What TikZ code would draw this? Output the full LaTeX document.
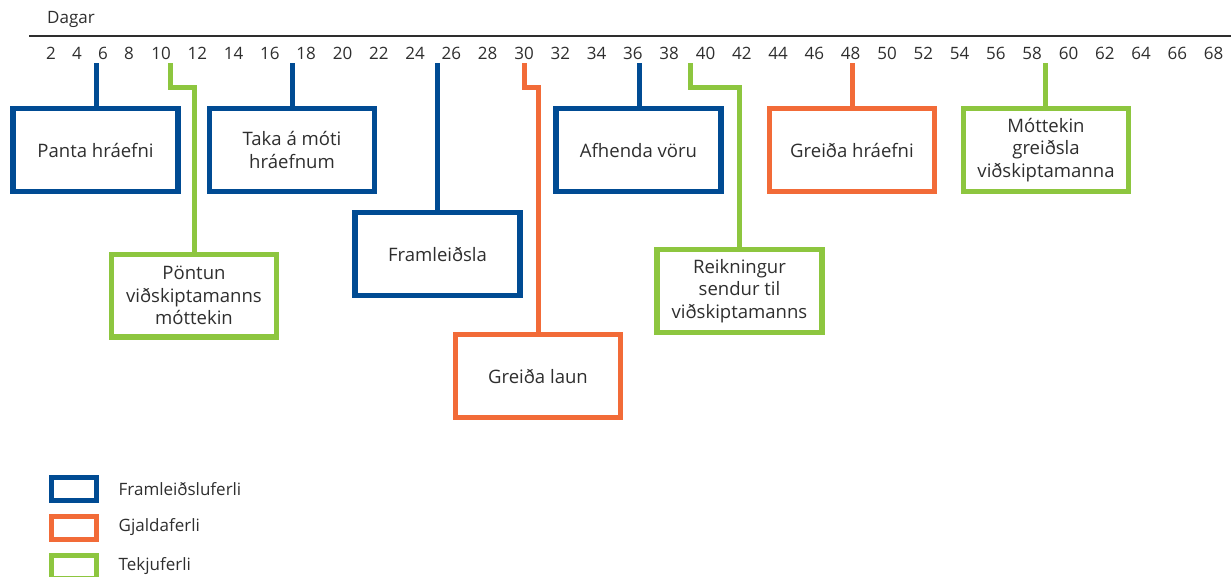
\documentclass[tikz,border=0pt]{standalone}
\usepackage{fontspec}
\setmainfont{Open Sans}
\definecolor{fblue}{HTML}{004B93}
\definecolor{forange}{HTML}{F26B38}
\definecolor{fgreen}{HTML}{8DC63F}
\definecolor{ftext}{HTML}{2E2E2E}
\begin{document}
\begin{tikzpicture}[x=0.75pt,y=-0.75pt,
  every node/.style={font=\fontsize{12.75}{16.9}\selectfont, text=ftext},
  proc/.style={draw, line width=4.1pt, minimum width=123.75pt, minimum height=61.9pt, align=center, inner sep=0pt, font=\fontsize{13.9}{16.9}\selectfont},
  bluebox/.style={proc, draw=fblue},
  orangebox/.style={proc, draw=forange},
  greenbox/.style={proc, draw=fgreen},
  conn/.style={line width=3.75pt},
  swatch/.style={draw, line width=4.1pt, minimum width=33.4pt, minimum height=16.9pt, inner sep=0pt}]
\useasboundingbox (0,0) rectangle (1231,576);

% axis
\node (dagar) at (71,19) {Dagar};
\coordinate (axL) at (29,36);
\coordinate (axR) at (1231,36);
\draw[line width=1.1pt, ftext] (axL) -- (axR);
\foreach \n/\x in {2/51,4/77,6/103,8/129} \node (t\n) at (\x,53) {\n};
\foreach \n in {10,12,...,68} \node (t\n) at ({161+(\n-10)*18.15},53) {\n};

% boxes
\node[bluebox] (panta) at (95.5,150) {Panta hráefni};
\node[bluebox] (taka) at (292,150) {Taka á móti\\hráefnum};
\node[bluebox] (afhenda) at (638.5,150) {Afhenda vöru};
\node[orangebox] (greidahr) at (852,150) {Greiða hráefni};
\node[greenbox] (mottekin) at (1046,150) {Móttekin\\greiðsla\\viðskiptamanna};
\node[greenbox] (pontun) at (194,295.5) {Pöntun\\viðskiptamanns\\móttekin};
\node[bluebox] (framl) at (437.5,254) {Framleiðsla};
\node[orangebox] (laun) at (538,376) {Greiða laun};
\node[greenbox] (reikn) at (739.5,291) {Reikningur\\sendur til\\viðskiptamanns};

% connector start points
\coordinate (s6) at (96,63);
\coordinate (s10) at (170,63);
\coordinate (k10) at (170,87);
\coordinate (s18) at (292,63);
\coordinate (s26) at (437.5,63);
\coordinate (s30) at (524,63);
\coordinate (k30) at (524,87);
\coordinate (s36) at (639,63);
\coordinate (s40) at (690,63);
\coordinate (k40) at (690,87);
\coordinate (s48) at (852,63);
\coordinate (s58) at (1045,63);

\draw[conn, fblue] (s6) -- (s6 |- panta.north);
\draw[conn, fgreen] (s10) -- (k10) -| (pontun.north);
\draw[conn, fblue] (s18) -- (s18 |- taka.north);
\draw[conn, fblue] (s26) -- (s26 |- framl.north);
\draw[conn, forange] (s30) -- (k30) -| (laun.north);
\draw[conn, fblue] (s36) -- (s36 |- afhenda.north);
\draw[conn, fgreen] (s40) -- (k40) -| (reikn.north);
\draw[conn, forange] (s48) -- (s48 |- greidahr.north);
\draw[conn, fgreen] (s58) -- (s58 |- mottekin.north);

% legend
\node[swatch, draw=fblue] (lg1) at (74,489) {};
\node[swatch, draw=forange] (lg2) at (74,528) {};
\node[swatch, draw=fgreen] (lg3) at (74,567) {};
\node[anchor=west] (lt1) at (114,489) {Framleiðsluferli};
\node[anchor=west] (lt2) at (114,527) {Gjaldaferli};
\node[anchor=west] (lt3) at (114,566) {Tekjuferli};
\end{tikzpicture}
\end{document}
